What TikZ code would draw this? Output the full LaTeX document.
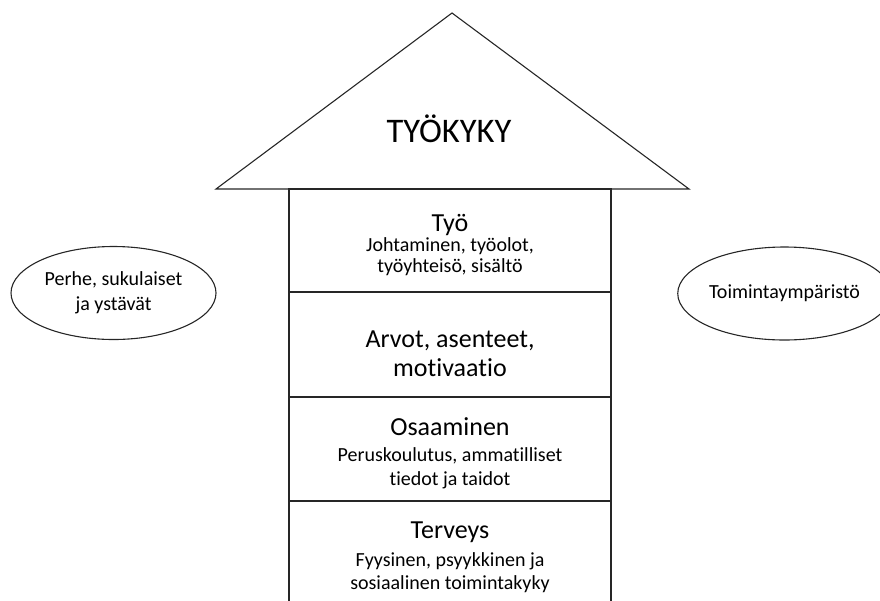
\documentclass[tikz,border=0pt]{standalone}
\usepackage{fontspec}
\setmainfont{Carlito}[RawFeature=-liga]
\usetikzlibrary{shapes.geometric}
\begin{document}
\begin{tikzpicture}[x=1pt,y=-1pt,
  outline/.style={draw=black!85, line width=1.1pt},
  layer/.style={outline, rectangle, minimum width=322pt, inner sep=0pt},
  bubble/.style={outline, ellipse, inner sep=0pt, align=center,
    font=\fontsize{20}{25}\selectfont},
  bigtitle/.style={anchor=base, inner sep=0pt, font=\fontsize{34.5}{40}\selectfont},
  head/.style={anchor=base, inner sep=0pt, font=\fontsize{26}{30}\selectfont},
  detail/.style={anchor=base, inner sep=0pt, font=\fontsize{20}{23}\selectfont}]
\useasboundingbox (0,0) rectangle (880,600);

% roof
\coordinate (apex) at (452,13);
\coordinate (eaveL) at (216,189);
\coordinate (eaveR) at (689,189);
\draw[outline, line join=miter] (eaveL) -- (apex) -- (eaveR) -- cycle;
\node[bigtitle] (tyokyky) at (449,142) {TYÖKYKY};

% floors of the house
\node[layer, minimum height=103pt] (tyo)     at (450,240.5) {};
\node[layer, minimum height=105pt] (arvot)   at (450,344.5) {};
\node[layer, minimum height=104pt] (osaam)   at (450,449)   {};
\node[layer, minimum height=104pt] (terveys) at (450,553)   {};

\node[head]   (tyoH)  at (450,231) {Työ};
\node[detail] (tyoA)  at (450,251) {Johtaminen, työolot,};
\node[detail] (tyoB)  at (450,272) {työyhteisö, sisältö};

\node[head]   (arvA)  at (450,347) {Arvot, asenteet,};
\node[head]   (arvB)  at (450,376) {motivaatio};

\node[head]   (osaH)  at (450,435) {Osaaminen};
\node[detail] (osaA)  at (450,461) {Peruskoulutus, ammatilliset};
\node[detail] (osaB)  at (450,485) {tiedot ja taidot};

\node[head]   (terH)  at (450,538) {Terveys};
\node[detail] (terA)  at (450,566) {Fyysinen, psyykkinen ja};
\node[detail] (terB)  at (450,589) {sosiaalinen toimintakyky};

% surroundings
\node[bubble, minimum width=205pt, minimum height=93pt] (perhe) at (113.5,293)
  {Perhe, sukulaiset\\ja ystävät};
\node[bubble, minimum width=189pt, minimum height=93pt] (ymparisto) at (784.5,293.5)
  {Toimintaympäristö};
\end{tikzpicture}
\end{document}
